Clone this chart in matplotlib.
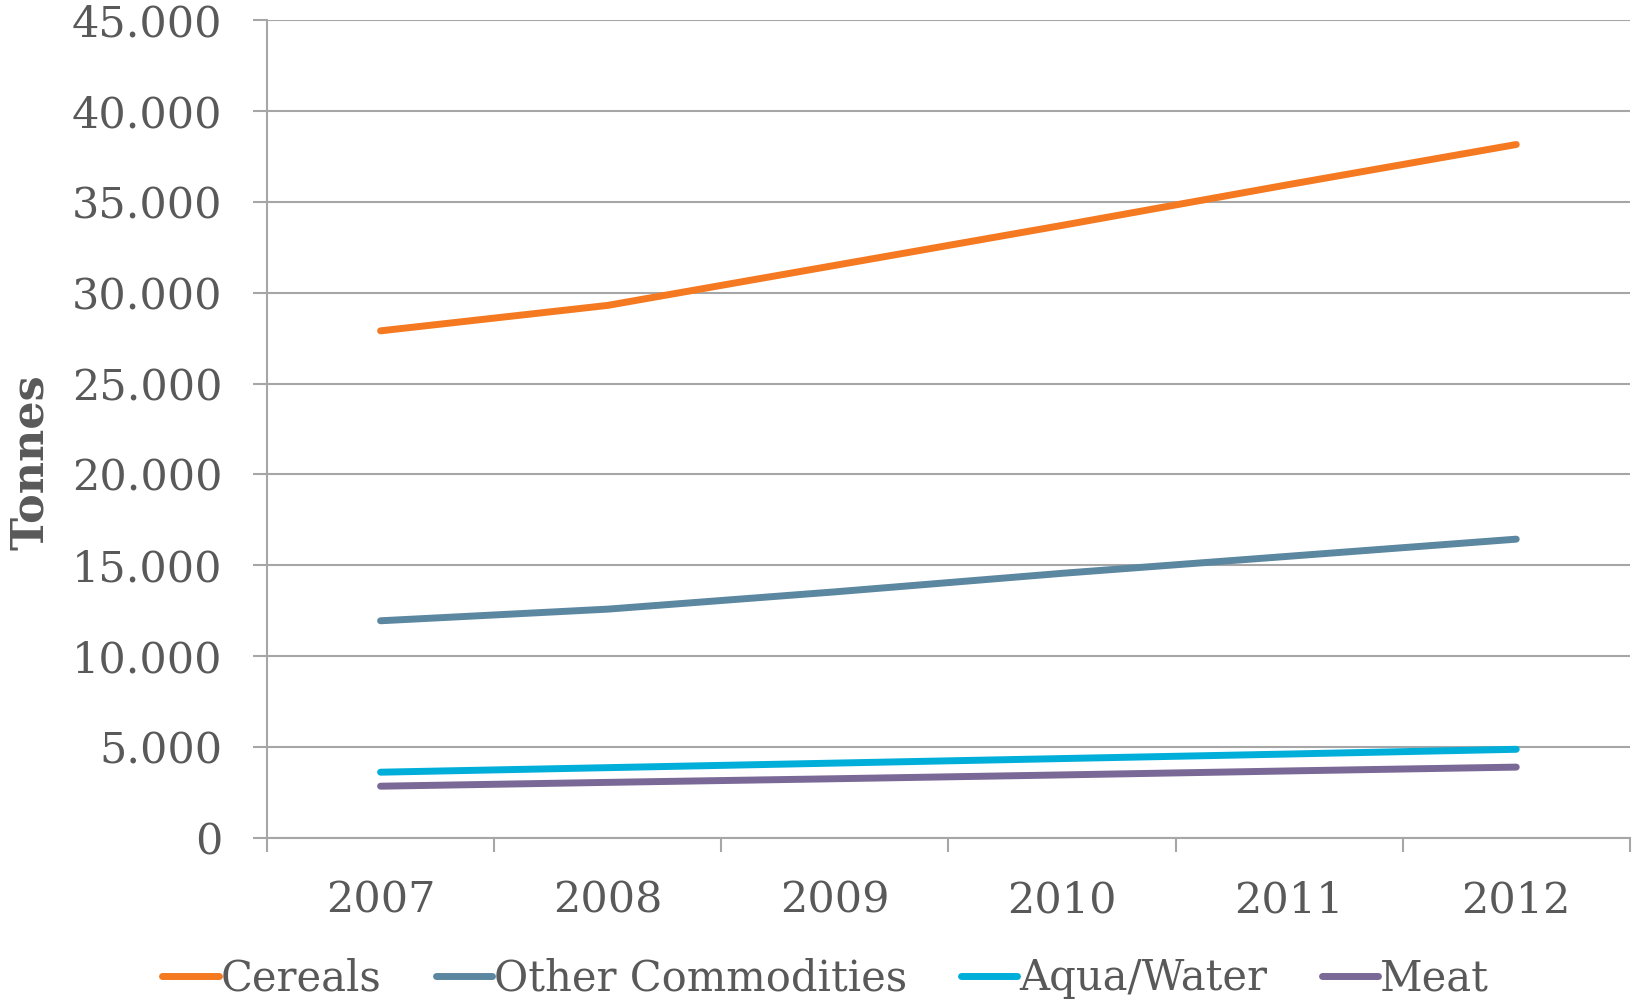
import matplotlib
matplotlib.use("Agg")
import matplotlib.pyplot as plt
import numpy as np
from matplotlib.ticker import FuncFormatter, FixedLocator

years = ["2007", "2008", "2009", "2010", "2011", "2012"]
cereals = [27900, 29300, 31500, 33700, 35950, 38150]
other = [11950, 12590, 13540, 14560, 15500, 16440]
aqua = [3620, 3870, 4120, 4370, 4620, 4880]
meat = [2850, 3060, 3260, 3470, 3690, 3900]

series = [
    ("Cereals", cereals, "#F47920"),
    ("Other Commodities", other, "#5B87A0"),
    ("Aqua/Water", aqua, "#00AEDA"),
    ("Meat", meat, "#7A6896"),
]

grey = "#595959"
grid_c = "#A6A6A6"
plt.rcParams["font.family"] = ["DejaVu Serif"]

fig = plt.figure(figsize=(16.38, 10), dpi=100)
ax = fig.add_axes([0.163, 0.162, 0.832, 0.818])

x = np.arange(len(years))
for name, vals, col in series:
    ax.plot(x, vals, color=col, lw=5, label=name, solid_capstyle="round")

ax.set_xlim(-0.5, len(years) - 0.5)
ax.set_ylim(0, 45000)
ax.set_yticks(np.arange(0, 45001, 5000))
ax.yaxis.set_major_formatter(FuncFormatter(lambda v, p: f"{int(v):,}".replace(",", ".")))
ax.yaxis.grid(True, color=grid_c, lw=1.5)
ax.set_axisbelow(True)

# category labels centred, tick marks on the boundaries
ax.set_xticks(x)
ax.set_xticklabels(years)
ax.tick_params(axis="x", which="major", length=0, pad=30, labelsize=31, labelcolor=grey)
ax.xaxis.set_minor_locator(FixedLocator(np.arange(-0.5, len(years), 1.0)))
ax.tick_params(axis="x", which="minor", length=10, width=1.5, color=grid_c)
ax.tick_params(axis="y", length=10, width=1.5, color=grid_c, pad=22, labelsize=31, labelcolor=grey)

for s in ["top", "right"]:
    ax.spines[s].set_visible(False)
for s in ["left", "bottom"]:
    ax.spines[s].set_color(grid_c)
    ax.spines[s].set_linewidth(1.5)

ax.set_ylabel("Tonnes", fontsize=32, fontweight="bold", color=grey)
ax.yaxis.set_label_coords(-0.158, 0.46)

leg = fig.legend(loc="lower center", bbox_to_anchor=(0.504, -0.022), ncol=4, frameon=False,
                 fontsize=30, handlelength=1.35, handletextpad=0.05, columnspacing=1.3,
                 borderpad=0.05)
for t in leg.get_texts():
    t.set_color(grey)

fig.savefig("out.png", dpi=100)
